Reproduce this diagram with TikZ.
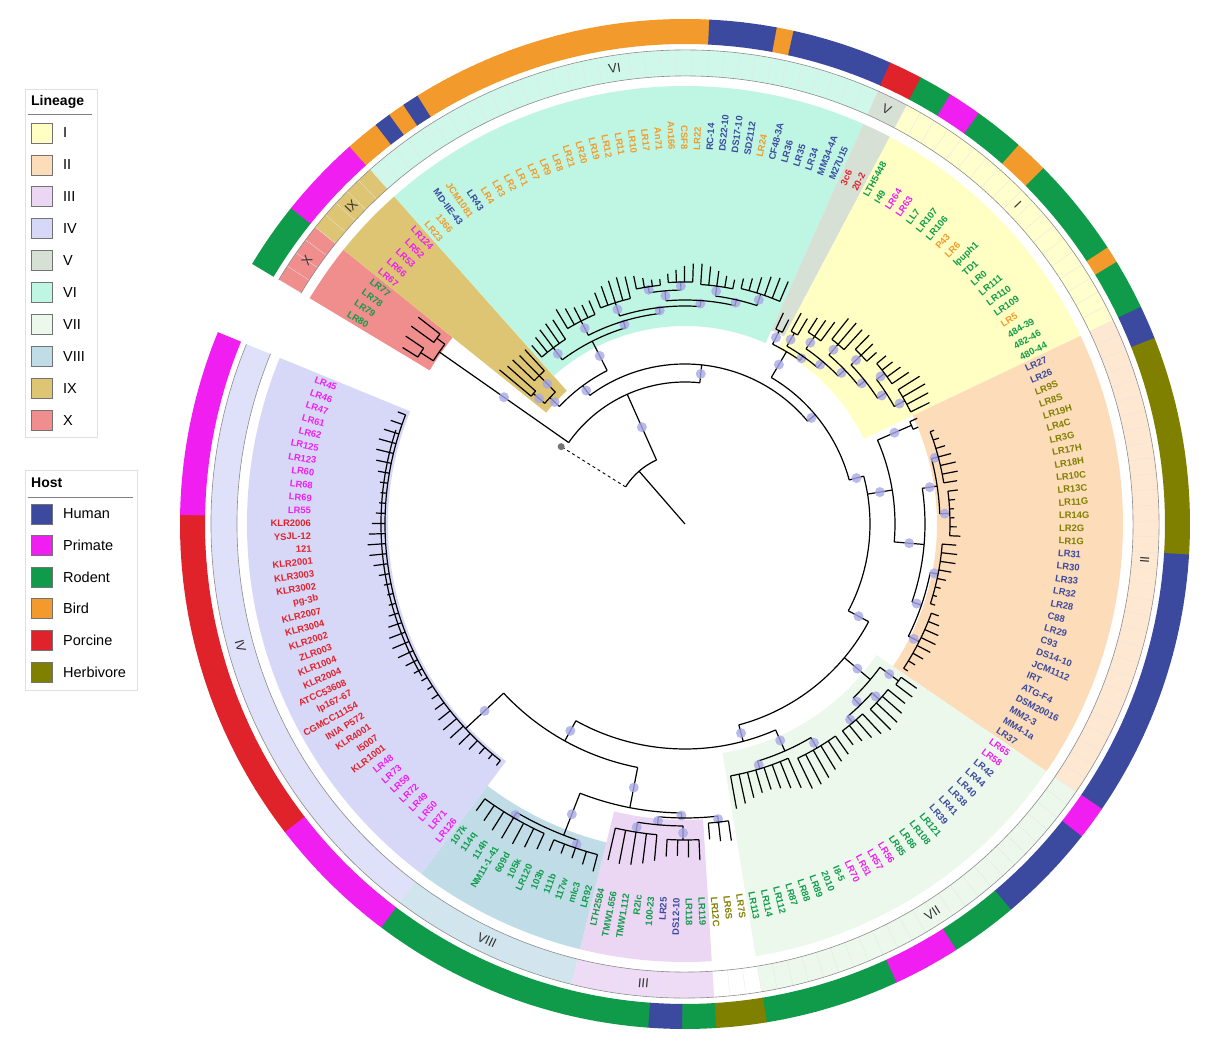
\documentclass[tikz,border=0pt]{standalone}
\usepackage{fontspec}
\setmainfont{Liberation Sans}
\definecolor{hu}{HTML}{3B4A9E}
\definecolor{pr}{HTML}{F01EF0}
\definecolor{ro}{HTML}{0F9B4A}
\definecolor{bi}{HTML}{F29A2B}
\definecolor{po}{HTML}{E0222B}
\definecolor{he}{HTML}{7F7F00}
\definecolor{lI}{HTML}{FFFFC4}
\definecolor{lII}{HTML}{FDDCB9}
\definecolor{lIII}{HTML}{EBD6F4}
\definecolor{lIV}{HTML}{D7D8F8}
\definecolor{lV}{HTML}{D6E0D4}
\definecolor{lVI}{HTML}{BFF6E3}
\definecolor{lVII}{HTML}{ECF8EC}
\definecolor{lVIII}{HTML}{C0DDE7}
\definecolor{lIX}{HTML}{DEC573}
\definecolor{lX}{HTML}{EF8E8D}
\definecolor{dotc}{HTML}{A8A8E6}
\newcommand\dArc[3]{\draw[br] (#1:#3pt) arc[start angle=#1, end angle=#2, radius=#3pt];}
\newcommand\dStem[3]{\draw[br] (#1:#2pt) -- (#1:#3pt);\fill[dotc,opacity=0.8] (#1:{(#2+#3)/2*1pt}) circle[radius=5pt];}
\newcommand\dLine[3]{\draw[br] (#1:#2pt) -- (#1:#3pt);}
\newcommand\tComb[4]{\draw[br] ({148-1.93*(#1)}:#3pt) arc[start angle={148-1.93*(#1)}, end angle={148-1.93*(#2)}, radius=#3pt];\foreach \k in {#1,...,#2}{\draw[br] ({148-1.93*\k}:#3pt) -- ({148-1.93*\k}:{(#4+6*sin(\k*37))*1pt});}}
\newcommand\tWedge[4]{\fill[#4] ({148-1.93*(#1)+0.965}:#3pt) arc[start angle={148-1.93*(#1)+0.965}, end angle={148-1.93*(#2)-0.965}, radius=#3pt] -- ({148-1.93*(#2)-0.965}:438pt) arc[start angle={148-1.93*(#2)-0.965}, end angle={148-1.93*(#1)+0.965}, radius=438pt] -- cycle;}
\newcommand\tRing[3]{\fill[#3] ({148-1.93*(#1)+0.965}:448pt) arc[start angle={148-1.93*(#1)+0.965}, end angle={148-1.93*(#2)-0.965}, radius=448pt] -- ({148-1.93*(#2)-0.965}:474pt) arc[start angle={148-1.93*(#2)-0.965}, end angle={148-1.93*(#1)+0.965}, radius=474pt] -- cycle;}
\newcommand\tRoman[2]{\pgfmathsetmacro\ra{148-1.93*(#1)}\pgfmathsetmacro\rr{sin(\ra)>0 ? \ra-90 : \ra+90}\node[rom,rotate=\rr] at (\ra:461pt) {#2};}
\begin{document}
\begin{tikzpicture}[x=1pt,y=1pt,
  br/.style={line width=1.2pt,black},
  lbl/.style={inner sep=0pt,font=\fontsize{9.4}{10}\selectfont\bfseries},
  rom/.style={inner sep=0pt,text=black!80,font=\fontsize{13}{14}\selectfont},
  swatch/.style={draw=black!55,line width=0.6pt},
  legtext/.style={anchor=west,inner sep=0pt,font=\fontsize{14.5}{16}\selectfont},
  legtitle/.style={anchor=west,inner sep=0pt,font=\fontsize{14}{16}\selectfont\bfseries},
  legframe/.style={draw=black!12,line width=0.8pt}]
\useasboundingbox (-685,-535) rectangle (528,524);
% clade wedges
\tWedge{0}{3}{298}{lX}
\tWedge{4}{8}{178}{lIX}
\tWedge{9}{42}{198}{lVI}
\tWedge{43}{44}{212}{lV}
\tWedge{45}{63}{198}{lI}
\tWedge{64}{94}{252}{lII}
\tWedge{95}{118}{232}{lVII}
\tWedge{122}{130}{296}{lIII}
\tWedge{131}{142}{328}{lVIII}
\tWedge{143}{181}{297}{lIV}
% lineage ring
\tRing{0}{3}{lX}
\tRing{4}{8}{lIX}
\tRing{9}{42}{lVI!75!white}
\tRing{43}{44}{lV}
\tRing{45}{63}{lI!85!white}
\tRing{64}{94}{lII!65!white}
\tRing{95}{118}{lVII}
\tRing{122}{130}{lIII!85!white}
\tRing{131}{142}{lVIII!75!white}
\tRing{143}{181}{lIV!80!white}
% labels and host ring
\foreach \lab/\c [count=\n from 0] in {LR80/ro,LR79/ro,LR78/ro,LR77/ro,
 LR67/pr,LR66/pr,LR53/pr,LR52/pr,LR124/pr,
 LR23/bi,1366/bi,MD-IIE-43/hu,JCM1081/bi,LR43/hu,LR4/bi,LR3/bi,LR2/bi,LR1/bi,LR7/bi,LR9/bi,LR8/bi,LR21/bi,LR20/bi,LR19/bi,LR12/bi,LR11/bi,LR10/bi,LR17/bi,An71/bi,An166/bi,CSF8/bi,LR22/bi,RC-14/hu,DS22-10/hu,DS17-10/hu,SD2112/hu,LR24/bi,CF48-3A/hu,LR36/hu,LR35/hu,LR34/hu,MM34-4A/hu,M27U15/hu,
 3c6/po,20-2/po,
 LTH5448/ro,I49/ro,LR64/pr,LR63/pr,LL7/ro,LR107/ro,LR106/ro,P43/bi,LR6/bi,lpuph1/ro,TD1/ro,LR0/ro,LR111/ro,LR110/ro,LR109/ro,LR5/bi,484-39/ro,482-46/ro,480-44/ro,
 LR27/hu,LR26/hu,LR9S/he,LR8S/he,LR19H/he,LR4C/he,LR3G/he,LR17H/he,LR18H/he,LR10C/he,LR13C/he,LR11G/he,LR14G/he,LR2G/he,LR1G/he,LR31/hu,LR30/hu,LR33/hu,LR32/hu,LR28/hu,C88/hu,LR29/hu,C93/hu,DS14-10/hu,JCM1112/hu,IRT/hu,ATG-F4/hu,DSM20016/hu,MM2-3/hu,MM4-1a/hu,LR37/hu,
 LR65/pr,LR58/pr,LR42/hu,LR44/hu,LR40/hu,LR38/hu,LR41/hu,LR39/hu,LR121/ro,LR108/ro,LR86/ro,LR85/ro,LR56/pr,LR57/pr,LR51/pr,LR70/pr,I8-5/ro,2010/ro,LR89/ro,LR88/ro,LR87/ro,LR112/ro,LR114/ro,LR113/ro,
 LR7S/he,LR6S/he,LR12C/he,
 LR119/ro,LR118/ro,DS12-10/hu,LR25/hu,100-23/ro,R2lc/ro,TMW1.112/ro,TMW1.656/ro,LTH2584/ro,
 LR92/ro,mlc3/ro,117w/ro,111b/ro,103b/ro,LR120/ro,105k/ro,609d/ro,NM11-1-41/ro,114h/ro,114q/ro,107k/ro,
 LR126/pr,LR71/pr,LR50/pr,LR49/pr,LR72/pr,LR59/pr,LR73/pr,LR48/pr,
 KLR1001/po,I5007/po,KLR4001/po,INIA P572/po,CGMCC11154/po,lp167-67/po,ATCC53608/po,KLR2004/po,KLR1004/po,ZLR003/po,KLR2002/po,KLR3004/po,KLR2007/po,pg-3b/po,KLR3002/po,KLR3003/po,KLR2001/po,121/po,YSJL-12/po,KLR2006/po,
 LR55/pr,LR69/pr,LR68/pr,LR60/pr,LR123/pr,LR125/pr,LR62/pr,LR61/pr,LR47/pr,LR46/pr,LR45/pr}{%
  \pgfmathsetmacro\a{148-1.93*\n}%
  \fill[\c] ({\a+1}:480pt) arc[start angle={\a+1}, end angle={\a-1}, radius=480pt] -- ({\a-1}:505pt) arc[start angle={\a-1}, end angle={\a+1}, radius=505pt] -- cycle;
  \draw[black!10,line width=0.3pt] ({\a+0.965}:448pt) -- ({\a+0.965}:474pt);
  \pgfmathtruncatemacro\rt{and(\a>-90,\a<90)}%
  \ifnum\rt=1
    \node[lbl,text=\c,rotate=\a,anchor=west] at (\a:374pt) {\lab};
  \else
    \node[lbl,text=\c,rotate=\a+180,anchor=east] at (\a:374pt) {\lab};
  \fi
}
\draw[black!45,line width=0.6pt] (149:448pt) arc[start angle=149, end angle=-202.3, radius=448pt];
\draw[black!45,line width=0.6pt] (149:474pt) arc[start angle=149, end angle=-202.3, radius=474pt];
\tRoman{1.5}{X}\tRoman{6}{IX}\tRoman{25.5}{VI}\tRoman{43.5}{V}\tRoman{54}{I}
\tRoman{79}{II}\tRoman{106.5}{VII}\tRoman{126}{III}\tRoman{136.5}{VIII}\tRoman{162}{IV}
% ---------------- tree ----------------
\draw[br] (0,0) -- (131:70pt);
\dArc{148}{114}{70}
\draw[br,dashed,line width=0.9pt] (148:70pt) -- (148:143pt);
\fill[black!55] (148:146pt) circle[radius=3.5pt];
\dStem{114}{70}{142}
\dArc{145}{84}{142}
% X
\dStem{145}{142}{300}
\dArc{147.04}{143.18}{300}
\dLine{147.04}{300}{315}\tComb{0}{1}{315}{333}
\dLine{143.18}{300}{310}\tComb{2}{3}{310}{332}
\dStem{84}{142}{160}
\dArc{126.5}{40}{160}
% IX + VI
\dStem{126.5}{160}{172}
\dArc{136.9}{116.9}{172}
\dStem{136.9}{172}{185}
\dArc{139.3}{134.5}{185}
\dStem{139.3}{185}{200}\tComb{4}{5}{200}{238}
\dStem{134.5}{185}{208}\tComb{6}{8}{208}{242}
\dStem{116.9}{172}{205}
\dArc{126.77}{106.9}{205}
\dStem{126.77}{205}{220}\tComb{9}{13}{220}{238}
\dStem{106.9}{205}{212}\dArc{117.12}{96.75}{212}
\dStem{117.12}{212}{228}\tComb{14}{18}{228}{248}
\dStem{96.75}{212}{218}\dArc{107.47}{86}{218}
\dStem{107.47}{218}{232}\tComb{19}{23}{232}{250}
\dStem{86}{218}{224}\dArc{94.9}{77.1}{224}
\dStem{94.9}{224}{234}\dArc{98.8}{91.0}{234}
\dStem{98.8}{234}{240}\tComb{24}{27}{240}{252}
\dStem{91.0}{234}{242}\tComb{28}{31}{242}{255}
\dStem{77.1}{224}{230}\dArc{82.38}{71.77}{230}
\dStem{82.38}{230}{240}\tComb{32}{36}{240}{255}
\dStem{71.77}{230}{242}\tComb{37}{42}{242}{258}
% V + I
\dStem{40}{160}{170}
\dArc{59.5}{15}{170}
\dStem{59.5}{170}{200}
\dArc{64.0}{54.9}{200}
\dStem{64.0}{200}{215}\tComb{43}{44}{215}{230}
\dStem{54.9}{200}{205}\dArc{60.19}{49.7}{205}
\dStem{60.19}{205}{220}\tComb{45}{46}{220}{245}
\dStem{49.7}{205}{213}\dArc{55.36}{44.0}{213}
\dStem{55.36}{213}{228}\tComb{47}{49}{228}{250}
\dStem{44.0}{213}{222}\dArc{49.57}{38.5}{222}
\dStem{49.57}{222}{236}\tComb{50}{52}{236}{258}
\dStem{38.5}{222}{230}\dArc{43.78}{33.15}{230}
\dStem{43.78}{230}{244}\tComb{53}{55}{244}{262}
\dStem{33.15}{230}{240}\dArc{37.03}{29.3}{240}
\dStem{37.03}{240}{250}\tComb{56}{59}{250}{268}
\dStem{29.3}{240}{252}\tComb{60}{63}{252}{272}
% II
\dStem{15}{170}{185}
\dArc{15}{-28}{185}
\dStem{9.3}{185}{210}
\dArc{23.55}{-4.9}{210}
\dStem{23.55}{210}{247}\tComb{64}{65}{247}{258}
\dStem{-4.9}{210}{240}\dArc{8.55}{-18.95}{240}
\dStem{8.55}{240}{255}\dArc{14.83}{2.29}{255}
\dStem{14.83}{255}{262}\tComb{66}{72}{262}{272}
\dStem{2.29}{255}{265}\tComb{73}{78}{265}{275}
\dStem{-18.95}{240}{250}\dArc{-11.2}{-26.67}{250}
\dStem{-11.2}{250}{258}\tComb{79}{86}{258}{268}
\dStem{-26.67}{250}{262}\tComb{87}{94}{262}{272}
% VII
\dStem{-28}{185}{208}
\dArc{-28}{-75}{208}
\dStem{-40}{208}{242}
\dArc{-36.32}{-45.97}{242}
\dStem{-36.32}{242}{265}\tComb{95}{96}{265}{290}
\dStem{-45.97}{242}{252}\dArc{-42.1}{-49.83}{252}
\dStem{-42.1}{252}{262}\tComb{97}{100}{262}{285}
\dStem{-49.83}{252}{260}\tComb{101}{104}{260}{283}
\dStem{-75}{208}{225}
\dArc{-66.25}{-119}{225}
\dStem{-66.25}{225}{248}\dArc{-59.48}{-72.98}{248}
\dStem{-59.48}{248}{260}\tComb{105}{110}{260}{288}
\dStem{-72.98}{248}{256}\tComb{111}{118}{256}{285}
% unassigned, III, VIII, IV
\dStem{-119}{225}{248}
\dArc{-101}{-137}{248}
\dStem{-101}{248}{289}
\dArc{-90.7}{-111.3}{289}
\dStem{-90.7}{289}{294}
\dArc{-83.6}{-95.2}{294}
\dStem{-83.6}{294}{300}\tComb{119}{121}{300}{314}
\dStem{-95.2}{294}{302}\dArc{-90.36}{-99.04}{302}
\dStem{-90.36}{302}{316}\tComb{122}{125}{316}{338}
\dStem{-99.04}{302}{312}\tComb{126}{130}{312}{340}
\dStem{-111.3}{289}{334}\dArc{-108.69}{-120.27}{334}
\dStem{-108.69}{334}{342}\tComb{131}{135}{342}{358}
\dStem{-120.27}{334}{340}\tComb{136}{142}{340}{358}
\dStem{-137}{248}{300}
\tComb{143}{181}{300}{312}
\dArc{-150}{-198}{304}
% ---------------- legends ----------------
\begin{scope}[shift={(-685,524)},yscale=-1]
\draw[legframe] (25,89) rectangle (97,437);
\node[legtitle] at (31,102) {Lineage};
\draw[black!50,line width=0.8pt] (28,114) -- (92,114);
\foreach \c/\t [count=\j from 0] in {lI/I,lII/II,lIII/III,lIV/IV,lV/V,lVI/VI,lVII/VII,lVIII/VIII,lIX/IX,lX/X}{%
  \pgfmathsetmacro\yy{133+31.9*\j}
  \draw[swatch,fill=\c] (31,\yy-10) rectangle (52,\yy+10);
  \node[legtext] at (63,\yy) {\t};
}
\draw[legframe] (25,470) rectangle (137,690);
\node[legtitle] at (31,483) {Host};
\draw[black!50,line width=0.8pt] (28,497) -- (133,497);
\foreach \c/\t [count=\j from 0] in {hu/Human,pr/Primate,ro/Rodent,bi/Bird,po/Porcine,he/Herbivore}{%
  \pgfmathsetmacro\yy{514+31.6*\j}
  \draw[swatch,fill=\c] (31,\yy-10) rectangle (52,\yy+10);
  \node[legtext] at (63,\yy) {\t};
}
\end{scope}
\end{tikzpicture}
\end{document}
